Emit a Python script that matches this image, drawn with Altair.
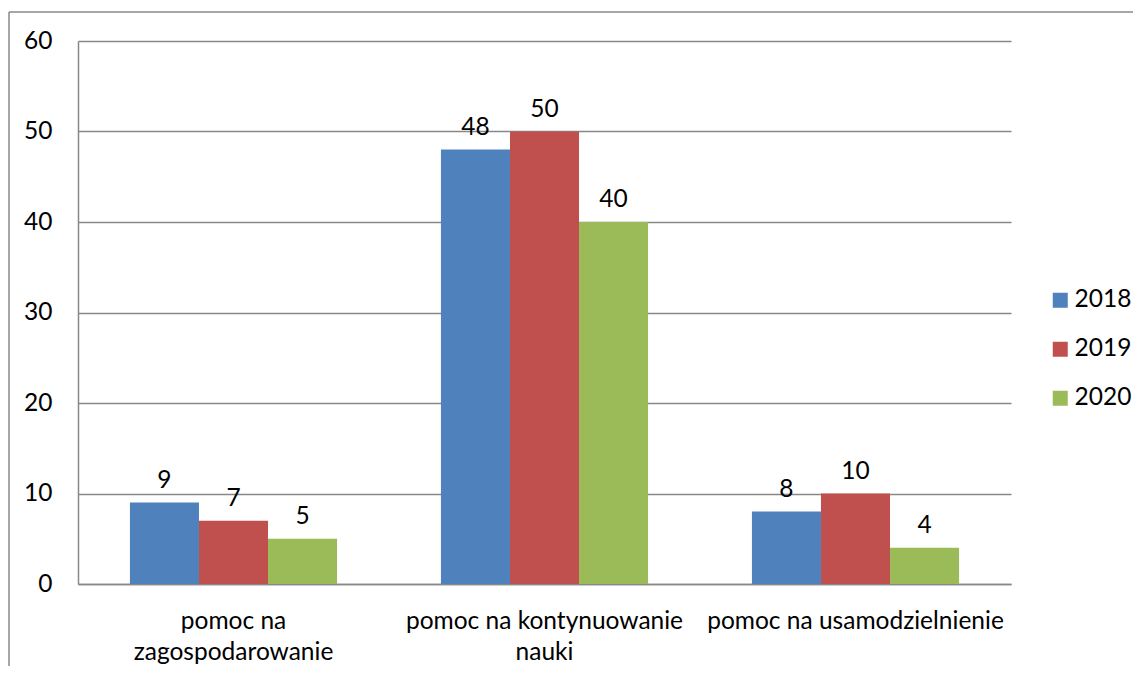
import altair as alt
import pandas as pd

categories = ["pomoc na zagospodarowanie", "pomoc na kontynuowanie nauki", "pomoc na usamodzielnienie"]
category_lines = {
    "pomoc na zagospodarowanie": ["pomoc na", "zagospodarowanie"],
    "pomoc na kontynuowanie nauki": ["pomoc na kontynuowanie", "nauki"],
    "pomoc na usamodzielnienie": ["pomoc na usamodzielnienie"],
}
years = ["2018", "2019", "2020"]
values_2018 = [9, 48, 8]
values_2019 = [7, 50, 10]
values_2020 = [5, 40, 4]
colors = ["#4F81BD", "#C0504D", "#9BBB59"]
y_ticks = [0, 10, 20, 30, 40, 50, 60]

rows = []
for yr, vals in zip(years, [values_2018, values_2019, values_2020]):
    for c, v in zip(categories, vals):
        rows.append({"kategoria": c, "rok": yr, "liczba": v})
df = pd.DataFrame(rows)

FONT = "Lato"
FS = 24.5
GRAY = "#888888"

label_expr = " : ".join(
    [f"datum.value == '{k}' ? {v!r}" for k, v in category_lines.items()]
) + " : datum.value"

x_enc = alt.X(
    "kategoria:N",
    sort=categories,
    scale=alt.Scale(paddingInner=0.334, paddingOuter=0.167),
    axis=alt.Axis(
        title=None, labelAngle=0, ticks=False, labelPadding=25,
        labelExpr=label_expr, labelLineHeight=31,
        labelFont=FONT, labelFontSize=FS, labelColor="black",
        domainColor=GRAY, domainWidth=1.5, labelLimit=400,
    ),
)
y_enc = alt.Y(
    "liczba:Q",
    scale=alt.Scale(domain=[0, 60], nice=False),
    axis=alt.Axis(
        title=None, values=y_ticks, ticks=False, labelPadding=26,
        labelFont=FONT, labelFontSize=FS, labelColor="black",
        domainColor=GRAY, domainWidth=1.5,
        grid=True, gridColor=GRAY, gridWidth=1.5,
    ),
)
xoff = alt.XOffset("rok:N", sort=years, scale=alt.Scale(paddingInner=0, paddingOuter=0))

base = alt.Chart(df)
bars = base.mark_bar().encode(
    x=x_enc, y=y_enc, xOffset=xoff,
    color=alt.Color(
        "rok:N", sort=years,
        scale=alt.Scale(domain=years, range=colors),
        legend=alt.Legend(
            title=None, orient="none", legendX=970, legendY=247,
            symbolType="square", symbolSize=225, symbolStrokeWidth=0,
            labelFont=FONT, labelFontSize=FS, labelColor="black",
            labelOffset=2, rowPadding=24, padding=0,
        ),
    ),
)
texts = base.mark_text(
    baseline="alphabetic", dy=-15, font=FONT, fontSize=FS, color="black"
).encode(
    x=alt.X("kategoria:N", sort=categories),
    y=alt.Y("liczba:Q"),
    xOffset=alt.XOffset("rok:N", sort=years),
    text="liczba:Q",
)

one = alt.Chart(pd.DataFrame({"a": [0]}))
frame_left = one.mark_rule(color=GRAY, strokeWidth=1.5).encode(
    x=alt.value(-69), y=alt.value(-29), y2=alt.value(700)
)
frame_top = one.mark_rule(color=GRAY, strokeWidth=1.5).encode(
    x=alt.value(-69), x2=alt.value(1200), y=alt.value(-29)
)

chart = alt.layer(frame_left, frame_top, bars, texts).properties(
    width=933, height=543,
    autosize=alt.AutoSizeParams(type="none"),
    padding={"left": 70, "top": 33, "right": 122, "bottom": 82},
).configure_view(stroke=None)

chart.save("out.html", embed_options={"renderer": "svg", "actions": False})
